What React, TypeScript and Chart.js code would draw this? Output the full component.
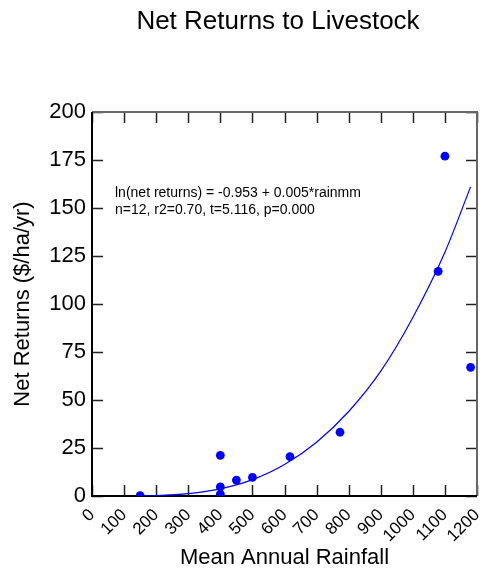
import { useEffect, useRef } from "react";
import { Chart, registerables } from "chart.js";

Chart.register(...registerables);

// Observed sites: mean annual rainfall (mm) vs net returns ($/ha/yr)
const rainfallMm = [150, 400, 400, 400, 450, 500, 617, 773, 1079, 1100, 1180];
const netReturns = [0.2, 1, 4.8, 21.2, 8.3, 9.7, 20.5, 33.2, 117, 177, 67];

// Fitted trend curve, sampled along the rainfall range
const fitRainfall = [150, 200, 300, 400, 500, 600, 700, 800, 900, 1000, 1100, 1180];
const fitReturns = [0.1, 0.2, 1.2, 3.7, 8.5, 16.4, 28, 44, 65, 93, 127, 161];

const chartTitle = "Net Returns to Livestock";
const xTitle = "Mean Annual Rainfall";
const yTitle = "Net Returns ($/ha/yr)";
const equationLines = [
  "ln(net returns) = -0.953 + 0.005*rainmm",
  "n=12, r2=0.70, t=5.116, p=0.000",
];

const FONT = "'Liberation Sans', Arial, Helvetica, sans-serif";
const BLUE = "#0000ff";

const framePlugin = {
  id: "frameAndNotes",
  beforeDatasetsDraw(chart: any) {
    const { ctx, chartArea: a, scales } = chart;
    const x = scales.x;
    const y = scales.y;
    const tickLen = 11;
    ctx.save();
    ctx.lineCap = "butt";
    // inward tick marks on all four sides
    ctx.strokeStyle = "#222";
    ctx.lineWidth = 1.5;
    ctx.beginPath();
    x.ticks.forEach((t: any) => {
      const px = Math.round(x.getPixelForValue(t.value)) + 0.5;
      ctx.moveTo(px, a.bottom);
      ctx.lineTo(px, a.bottom - tickLen);
      ctx.moveTo(px, a.top);
      ctx.lineTo(px, a.top + tickLen);
    });
    y.ticks.forEach((t: any) => {
      const py = Math.round(y.getPixelForValue(t.value)) + 0.5;
      ctx.moveTo(a.left, py);
      ctx.lineTo(a.left + tickLen, py);
      ctx.moveTo(a.right, py);
      ctx.lineTo(a.right - tickLen, py);
    });
    ctx.stroke();
    // top and right frame lines
    ctx.strokeStyle = "#666";
    ctx.lineWidth = 2;
    ctx.beginPath();
    ctx.moveTo(a.left, a.top);
    ctx.lineTo(a.right, a.top);
    ctx.lineTo(a.right, a.bottom);
    ctx.stroke();
    // left and bottom axis lines
    ctx.strokeStyle = "#000";
    ctx.beginPath();
    ctx.moveTo(a.left, a.top);
    ctx.lineTo(a.left, a.bottom);
    ctx.lineTo(a.right, a.bottom);
    ctx.stroke();
    ctx.restore();
  },
  afterDraw(chart: any) {
    const { ctx } = chart;
    ctx.save();
    ctx.fillStyle = "#000";
    ctx.textBaseline = "alphabetic";
    ctx.font = `26px ${FONT}`;
    ctx.textAlign = "center";
    ctx.fillText(chartTitle, 278, 29);
    ctx.font = `14px ${FONT}`;
    ctx.textAlign = "left";
    ctx.fillText(equationLines[0], 115, 197);
    ctx.fillText(equationLines[1], 115, 214);
    ctx.restore();
  },
};

export default function App() {
  const canvasRef = useRef<HTMLCanvasElement | null>(null);

  useEffect(() => {
    document.body.style.margin = "0";
    const canvas = canvasRef.current;
    if (!canvas) return;
    const chart = new Chart(canvas, {
      type: "scatter",
      data: {
        datasets: [
          {
            label: "fit",
            type: "line",
            data: fitRainfall.map((r, i) => ({ x: r, y: fitReturns[i] })),
            borderColor: BLUE,
            borderWidth: 1.2,
            pointRadius: 0,
            showLine: true,
            fill: false,
            cubicInterpolationMode: "monotone",
          } as any,
          {
            label: "sites",
            data: rainfallMm.map((r, i) => ({ x: r, y: netReturns[i] })),
            backgroundColor: BLUE,
            borderColor: BLUE,
            borderWidth: 0,
            pointRadius: 4.4,
          },
        ],
      },
      options: {
        responsive: false,
        animation: false,
        events: [],
        layout: { padding: { top: 112, right: 6, left: 0, bottom: 0 } },
        plugins: {
          legend: { display: false },
          tooltip: { enabled: false },
          title: { display: false },
        },
        scales: {
          x: {
            type: "linear",
            min: 0,
            max: 1200,
            grid: { display: false, drawTicks: false },
            border: { display: false },
            ticks: {
              stepSize: 100,
              autoSkip: false,
              minRotation: 45,
              maxRotation: 45,
              padding: 9,
              color: "#000",
              font: { family: FONT, size: 17 },
              callback: (v: any) => String(v),
            },
            title: {
              display: true,
              text: xTitle,
              color: "#000",
              font: { family: FONT, size: 22 },
              padding: { top: 0, bottom: 2 },
            },
            afterFit: (s: any) => {
              s.height = 77;
              s.paddingLeft = 0;
              s.paddingRight = 0;
            },
          },
          y: {
            type: "linear",
            min: 0,
            max: 200,
            grid: { display: false, drawTicks: false },
            border: { display: false },
            ticks: {
              stepSize: 25,
              padding: 6,
              color: "#000",
              font: { family: FONT, size: 22 },
              callback: (v: any) => String(v),
            },
            title: {
              display: true,
              text: yTitle,
              color: "#000",
              font: { family: FONT, size: 22 },
              padding: { top: 10, bottom: 0 },
            },
            afterFit: (s: any) => {
              s.width = 92;
            },
          },
        },
      },
      plugins: [framePlugin],
    });
    return () => chart.destroy();
  }, []);

  return <canvas ref={canvasRef} width={483} height={573} style={{ display: "block" }} />;
}
